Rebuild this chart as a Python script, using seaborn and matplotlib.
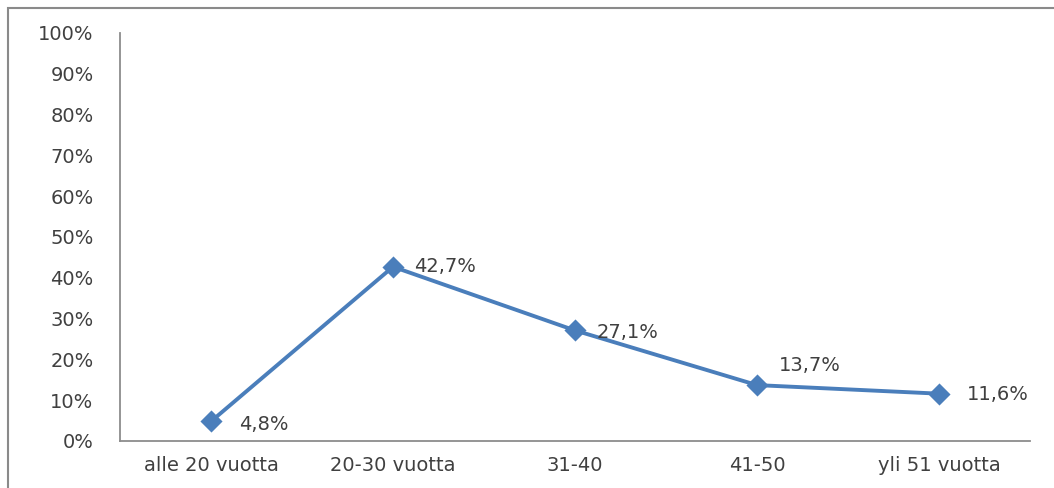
import matplotlib
matplotlib.use("Agg")
import matplotlib.pyplot as plt
import seaborn as sns
import pandas as pd
from matplotlib.ticker import FuncFormatter
from matplotlib.patches import Rectangle

sns.set_theme(style="white")
plt.rcParams['font.family'] = ['DejaVu Sans']

# data
age_groups = ['alle 20 vuotta', '20-30 vuotta', '31-40', '41-50', 'yli 51 vuotta']
share_pct = [4.8, 42.7, 27.1, 13.7, 11.6]
value_labels = ['4,8%', '42,7%', '27,1%', '13,7%', '11,6%']

df = pd.DataFrame({'group': age_groups, 'share': share_pct})

blue = '#4a7ebb'
axis_grey = '#8c8c8c'
text_col = '#404040'

fig = plt.figure(figsize=(10.54, 4.88), dpi=100)
ax = fig.add_axes([120 / 1054, 1 - 441 / 488, 910 / 1054, 408 / 488])

sns.pointplot(data=df, x='group', y='share', color=blue, markers='D',
              markersize=9, linewidth=2.8, ax=ax, errorbar=None)

ax.set_xlim(-0.5, 4.5)
ax.set_ylim(0, 100)
ax.set_yticks(range(0, 101, 10))
ax.yaxis.set_major_formatter(FuncFormatter(lambda v, p: f'{int(v)}%'))
ax.set_xlabel('')
ax.set_ylabel('')

for s in ['top', 'right']:
    ax.spines[s].set_visible(False)
for s in ['left', 'bottom']:
    ax.spines[s].set_color(axis_grey)
    ax.spines[s].set_linewidth(1.3)

ax.tick_params(axis='y', length=0, pad=19, labelsize=14, labelcolor=text_col)
ax.tick_params(axis='x', length=0, pad=11, labelsize=14, labelcolor=text_col)

# label offsets in pixels (dx, dy)
offsets = [(28, -3), (21, 0), (22, -2), (22, 20), (28, -1)]
for i, (v, lab) in enumerate(zip(share_pct, value_labels)):
    dx, dy = offsets[i]
    ax.annotate(lab, (i, v), xytext=(dx * 0.72, dy * 0.72), textcoords='offset points',
                ha='left', va='center', fontsize=14, color=text_col)

# outer chart border
fig.patches.append(Rectangle((8 / 1054, -0.1), 1.2, 1 - 8 / 488 + 0.1,
                             transform=fig.transFigure, fill=False,
                             edgecolor='#8a8a8a', linewidth=1.5))

fig.savefig('out.png', dpi=100)
